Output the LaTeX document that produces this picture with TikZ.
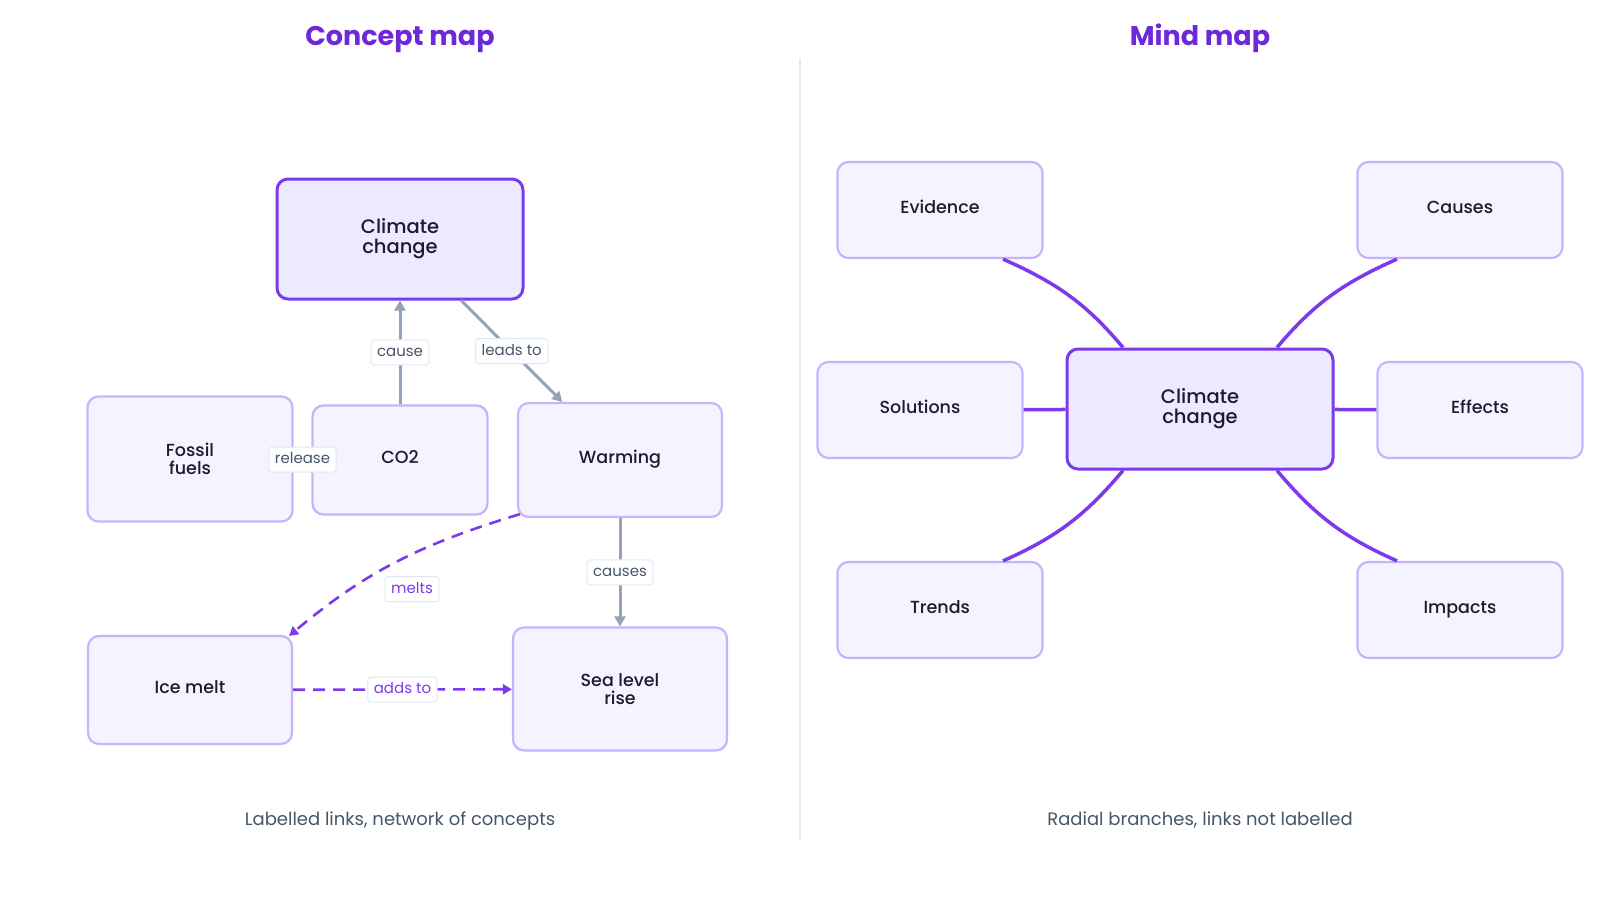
\documentclass[tikz,border=0pt]{standalone}
\usepackage{fontspec}
\setmainfont{Poppins}
\newfontfamily\medfont{Poppins Medium}
\usetikzlibrary{arrows.meta,calc}
\definecolor{boxfill}{HTML}{F5F3FF}
\definecolor{boxdraw}{HTML}{C4B5FD}
\definecolor{hubfill}{HTML}{EDE9FE}
\definecolor{purp}{HTML}{7C3AED}
\definecolor{titlec}{HTML}{6D28D9}
\definecolor{ink}{HTML}{1E1B2E}
\definecolor{slate}{HTML}{475569}
\definecolor{grayarrow}{HTML}{94A3B8}
\definecolor{sepc}{HTML}{E2E8F0}
\begin{document}
\begin{tikzpicture}[x=1pt,y=1pt,
  concept/.style={draw=boxdraw, fill=boxfill, line width=2.2pt, rounded corners=11pt,
    align=center, text=ink, font=\medfont\fontsize{17.5}{18}\selectfont, inner sep=0pt},
  oneline/.style={text height=12pt, text depth=5pt},
  hub/.style={concept, draw=purp, fill=hubfill, line width=3pt, font=\medfont\fontsize{19.5}{20}\selectfont},
  lab/.style={fill=white, draw=sepc, solid, line width=1pt, rounded corners=3pt, text=slate,
    font=\fontsize{15}{18}\selectfont, inner xsep=6pt, inner ysep=5pt, text height=11.5pt, text depth=3.5pt},
  plab/.style={lab, text=purp},
  glink/.style={draw=grayarrow, line width=3pt, -{Triangle[length=10pt,width=11pt]}},
  plink/.style={draw=purp, line width=2.6pt, dash pattern=on 12pt off 8pt, -{Triangle[length=9pt,width=10pt]}},
  branch/.style={draw=purp, line width=3.5pt},
  ttl/.style={text=titlec, font=\bfseries\fontsize{27}{32}\selectfont, text height=20pt, text depth=6pt},
  sub/.style={text=slate, font=\fontsize{18}{21}\selectfont, text height=13pt, text depth=4pt}
]
\useasboundingbox (0,0) rectangle (1600,-900);
\fill[white] (0,0) rectangle (1600,-900);

% titles
\node[ttl] (t1) at (400,-38.5) {Concept map};
\node[ttl] (t2) at (1200,-38.5) {Mind map};
\coordinate (s1) at (800,-59);
\coordinate (s2) at (800,-841);
\draw[sepc, line width=2pt] (s1) -- (s2);

% concept map
\node[hub, minimum width=246pt, minimum height=120pt] (cc) at (400,-239) {Climate\\change};
\node[concept, minimum width=205pt, minimum height=125pt] (ff) at (190,-459) {Fossil\\fuels};
\node[concept, oneline, minimum width=175pt, minimum height=109pt] (co2) at (400,-460) {CO2};
\node[concept, oneline, minimum width=204pt, minimum height=114pt] (warm) at (620,-460) {Warming};
\node[concept, oneline, minimum width=204pt, minimum height=108pt] (ice) at (190,-690) {Ice melt};
\node[concept, minimum width=214pt, minimum height=123pt] (sea) at (620,-689) {Sea level\\rise};

\draw[glink] (ff) -- node[lab] (l1) {release} (co2);
\draw[glink] (co2) -- node[lab] (l2) {cause} (cc);
\draw[glink] (cc) -- node[lab] (l3) {leads to} (warm);
\draw[glink] (warm) -- node[lab] (l4) {causes} (sea);
\draw[plink] ([shift={(3pt,4pt)}]warm.south west) to[out=197,in=40] ([shift={(-4pt,-1pt)}]ice.north east);
\node[plab] (l5) at (412,-589) {melts};
\draw[plink] (ice) -- node[plab] (l6) {adds to} (sea);

\node[sub] (c1) at (400,-821) {Labelled links, network of concepts};

% mind map
\node[hub, minimum width=266pt, minimum height=120pt] (mc) at (1200,-409) {Climate\\change};
\node[concept, oneline, minimum width=205pt, minimum height=96pt] (ev) at (940,-210) {Evidence};
\node[concept, oneline, minimum width=205pt, minimum height=96pt] (ca) at (1460,-210) {Causes};
\node[concept, oneline, minimum width=205pt, minimum height=96pt] (so) at (920,-410) {Solutions};
\node[concept, oneline, minimum width=205pt, minimum height=96pt] (ef) at (1480,-410) {Effects};
\node[concept, oneline, minimum width=205pt, minimum height=96pt] (tr) at (940,-610) {Trends};
\node[concept, oneline, minimum width=205pt, minimum height=96pt] (im) at (1460,-610) {Impacts};

\draw[branch] ($(ev.south)+(63,0)$) to[out=-24,in=130] ($(mc.north)+(-77,0)$);
\draw[branch] ($(ca.south)+(-63,0)$) to[out=204,in=50] ($(mc.north)+(77,0)$);
\draw[branch] ($(tr.north)+(63,0)$) to[out=24,in=230] ($(mc.south)+(-77,0)$);
\draw[branch] ($(im.north)+(-63,0)$) to[out=156,in=-50] ($(mc.south)+(77,0)$);
\draw[branch] (so) -- (mc);
\draw[branch] (mc) -- (ef);

\node[sub] (c2) at (1200,-821) {Radial branches, links not labelled};
\end{tikzpicture}
\end{document}
